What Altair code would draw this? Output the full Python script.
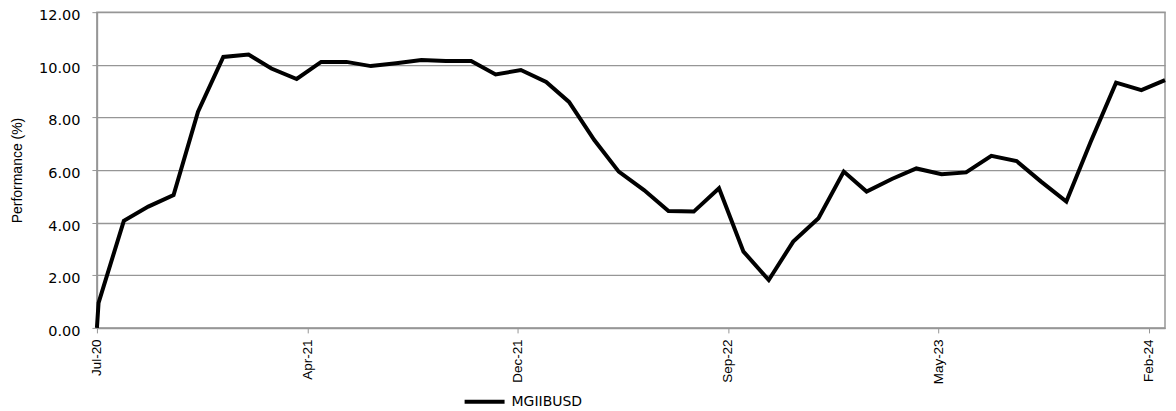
import altair as alt
import pandas as pd

# Data
dates = [
    "2020-07-29", "2020-07-31",
    "2020-08-31", "2020-09-30", "2020-10-31", "2020-11-30", "2020-12-31",
    "2021-01-31", "2021-02-28", "2021-03-31", "2021-04-30", "2021-05-31", "2021-06-30",
    "2021-07-31", "2021-08-31", "2021-09-30", "2021-10-31", "2021-11-30", "2021-12-31",
    "2022-01-31", "2022-02-28", "2022-03-31", "2022-04-30", "2022-05-31", "2022-06-30",
    "2022-07-31", "2022-08-31", "2022-09-30", "2022-10-31", "2022-11-30", "2022-12-31",
    "2023-01-31", "2023-02-28", "2023-03-31", "2023-04-30", "2023-05-31", "2023-06-30",
    "2023-07-31", "2023-08-31", "2023-09-30", "2023-10-31", "2023-11-30", "2023-12-31",
    "2024-01-31", "2024-02-29",
]
values = [
    0.00, 0.95,
    4.07, 4.61, 5.05, 8.22, 10.30,
    10.39, 9.86, 9.46, 10.11, 10.11, 9.95,
    10.06, 10.18, 10.14, 10.14, 9.63, 9.80,
    9.35, 8.59, 7.14, 5.94, 5.24, 4.44,
    4.42, 5.31, 2.90, 1.82, 3.28, 4.17,
    5.94, 5.18, 5.66, 6.06, 5.84, 5.91,
    6.54, 6.34, 5.56, 4.80, 7.08, 9.32,
    9.04, 9.42,
]
series_name = "MGIIBUSD"
tick_dates = ["2020-07-29", "2021-04-13", "2021-12-27", "2022-09-11", "2023-05-27", "2024-02-09"]
x_domain = ["2020-07-29", "2024-02-29"]
y_ticks = [0, 2, 4, 6, 8, 10, 12]

df = pd.DataFrame({"date": dates, "value": values, "series": series_name})


def to_ms(s):
    return int(pd.Timestamp(s, tz="UTC").value // 1_000_000)


tick_ms = [to_ms(d) for d in tick_dates]
domain_ms = [to_ms(d) for d in x_domain]

narrow = "Liberation Sans Narrow, Arial Narrow, sans-serif"
wide = "DejaVu Sans, Verdana, sans-serif"
gray = "#969696"

chart = (
    alt.Chart(df)
    .mark_line(strokeWidth=4, strokeJoin="miter")
    .encode(
        x=alt.X(
            "date:T",
            scale=alt.Scale(type="utc", domain=domain_ms, nice=False),
            axis=alt.Axis(
                values=tick_ms,
                format="%b-%y",
                labelAngle=270,
                labelAlign="right",
                labelBaseline="middle",
                labelFont=narrow,
                labelFontSize=13.5,
                labelColor="black",
                labelPadding=6,
                tickSize=5,
                tickColor=gray,
                domainColor=gray,
                domainWidth=1.5,
                grid=False,
                title=None,
                labelOverlap=False,
            ),
        ),
        y=alt.Y(
            "value:Q",
            scale=alt.Scale(domain=[0, 12], nice=False),
            axis=alt.Axis(
                values=y_ticks,
                format=".2f",
                labelFont=wide,
                labelFontSize=14.5,
                labelColor="black",
                labelPadding=12,
                labelOffset=3.5,
                tickSize=5,
                tickColor=gray,
                domainColor=gray,
                domainWidth=1.5,
                gridColor=gray,
                gridWidth=1.3,
                title="Performance (%)",
                titleFont=narrow,
                titleFontSize=14,
                titleFontWeight="normal",
                titleColor="black",
                titleAngle=270,
                titleX=-79,
                titleY=158,
                titleAlign="center",
                titleBaseline="middle",
            ),
        ),
        color=alt.Color(
            "series:N",
            scale=alt.Scale(range=["black"]),
            legend=alt.Legend(
                title=None,
                orient="none",
                legendX=366,
                legendY=368,
                padding=0,
                symbolType="stroke",
                symbolSize=1600,
                symbolStrokeWidth=4,
                symbolStrokeColor="black",
                labelFont=wide,
                labelFontSize=14,
                labelColor="black",
                labelOffset=5,
            ),
        ),
    )
    .properties(
        width=1069,
        height=316,
        autosize=alt.AutoSizeParams(type="none"),
        padding={"left": 89, "top": 4, "right": 3, "bottom": 83},
    )
    .configure_view(stroke=gray, strokeWidth=1.5)
)

chart.save("out.html", embed_options={"renderer": "svg", "actions": False})
